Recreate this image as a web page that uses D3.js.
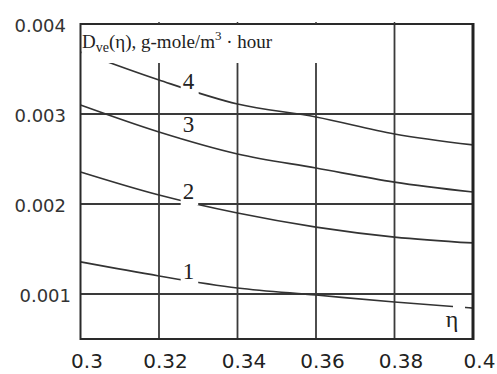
<!DOCTYPE html>
<html>
<head>
<meta charset="utf-8">
<script src="https://cdn.jsdelivr.net/npm/d3@7"></script>
<style>
  body { margin: 0; background: #fff; }
  svg { display: block; }
</style>
</head>
<body>
<svg id="chart" width="497" height="374"></svg>
<script>
// ===== data =====
const eta = [0.30, 0.32, 0.34, 0.36, 0.38, 0.40];
const curve1 = [0.001356, 0.0012, 0.001067, 0.000989, 0.000911, 0.000844];
const curve2 = [0.002356, 0.0021, 0.0019, 0.001744, 0.001633, 0.001567];
const curve3 = [0.0031, 0.0028, 0.002556, 0.0024, 0.002244, 0.002133];
const curve4 = [0.003689, 0.003378, 0.003111, 0.002967, 0.002778, 0.002656];
const curveNames = ["1", "2", "3", "4"];
// where each curve number is written (eta, value)
const labelEta = [0.3275, 0.3275, 0.3275, 0.3275];
const labelVal = [0.001256, 0.002144, 0.002889, 0.003367];

const xTicks = [0.30, 0.32, 0.34, 0.36, 0.38, 0.40];
const xTickLabels = ["0.3", "0.32", "0.34", "0.36", "0.38", "0.4"];
const yTicks = [0.004, 0.003, 0.002, 0.001];
const yTickLabels = ["0.004", "0.003", "0.002", "0.001"];

// ===== layout =====
const svg = d3.select("#chart");
const x = d3.scaleLinear().domain([0.3, 0.4]).range([80.5, 473]);
const y = d3.scaleLinear().domain([0.0005, 0.004]).range([339, 24]);
const gridCol = "#3a3a3a";
const lineCol = "#333";
const serif = "Liberation Serif, Times New Roman, serif";

// gridlines
svg.append("g").selectAll("line")
  .data(xTicks.slice(1, -1))
  .join("line")
  .attr("x1", d => x(d)).attr("x2", d => x(d))
  .attr("y1", y.range()[1]).attr("y2", y.range()[0])
  .attr("stroke", gridCol).attr("stroke-width", 1.8);

svg.append("g").selectAll("line")
  .data(yTicks.slice(1))
  .join("line")
  .attr("x1", x.range()[0]).attr("x2", x.range()[1])
  .attr("y1", d => y(d)).attr("y2", d => y(d))
  .attr("stroke", gridCol).attr("stroke-width", 1.8);

// curves
const series = [curve1, curve2, curve3, curve4];
const line = d3.line()
  .x(d => x(d[0]))
  .y(d => y(d[1]))
  .curve(d3.curveMonotoneX);

svg.append("g").selectAll("path")
  .data(series)
  .join("path")
  .attr("d", s => line(eta.map((e, i) => [e, s[i]])))
  .attr("fill", "none")
  .attr("stroke", lineCol)
  .attr("stroke-width", 1.7);

// title box (hides grid and curve 4 behind it)
const title = svg.append("g");
title.append("rect")
  .attr("x", x.range()[0] + 1).attr("y", y.range()[1] + 1)
  .attr("width", 240).attr("height", 38)
  .attr("fill", "#fff");
const tt = title.append("text")
  .attr("x", 82).attr("y", 48)
  .attr("font-family", serif)
  .attr("font-size", 19)
  .attr("fill", "#222");
tt.append("tspan").text("D");
tt.append("tspan").text("ve").attr("font-size", 14).attr("dy", 4);
tt.append("tspan").text("(η), g-mole/m").attr("dy", -4);
tt.append("tspan").text("3").attr("font-size", 13).attr("dy", -8);
tt.append("tspan").text(" · hour").attr("dy", 8);

// curve numbers with white boxes
const numG = svg.append("g");
curveNames.forEach((name, i) => {
  const cx = x(labelEta[i]);
  const cy = y(labelVal[i]);
  const g = numG.append("g");
  const t = g.append("text")
    .attr("x", cx).attr("y", cy)
    .attr("dy", "0.35em")
    .attr("text-anchor", "middle")
    .attr("font-family", serif)
    .attr("font-size", 23)
    .attr("fill", "#222")
    .text(name);
  const b = t.node().getBBox();
  g.insert("rect", "text")
    .attr("x", b.x - 2).attr("y", b.y + 4)
    .attr("width", b.width + 6).attr("height", b.height - 3)
    .attr("fill", "#fff");
});

// eta label
const etaG = svg.append("g");
etaG.append("rect")
  .attr("x", 453).attr("y", 300)
  .attr("width", 12).attr("height", 36)
  .attr("fill", "#fff");
etaG.append("text")
  .attr("x", 452).attr("y", 327)
  .attr("text-anchor", "middle")
  .attr("font-family", serif)
  .attr("font-size", 24)
  .attr("fill", "#222")
  .text("η");

// border
svg.append("rect")
  .attr("x", x.range()[0]).attr("y", y.range()[1])
  .attr("width", x.range()[1] - x.range()[0])
  .attr("height", y.range()[0] - y.range()[1])
  .attr("fill", "none")
  .attr("stroke", "#2a2a2a").attr("stroke-width", 2);
svg.append("line")
  .attr("x1", x.range()[1]).attr("x2", x.range()[1])
  .attr("y1", y.range()[1] - 1).attr("y2", y.range()[0] + 1)
  .attr("stroke", "#222").attr("stroke-width", 3);

// small ticks on top border
svg.append("g").selectAll("line")
  .data(xTicks.slice(1, -1))
  .join("line")
  .attr("x1", d => x(d)).attr("x2", d => x(d))
  .attr("y1", y.range()[1] - 2).attr("y2", y.range()[1])
  .attr("stroke", gridCol).attr("stroke-width", 1.5);

// ===== axes labels =====
const xAxis = d3.axisBottom(x)
  .tickValues(xTicks)
  .tickSize(0)
  .tickFormat((d, i) => xTickLabels[i]);
const gx = svg.append("g")
  .attr("transform", "translate(6,351)")
  .call(xAxis);
gx.select(".domain").remove();
gx.selectAll("text")
  .attr("font-family", "DejaVu Sans, sans-serif")
  .attr("font-size", 20)
  .attr("fill", "#222");

const yAxis = d3.axisLeft(y)
  .tickValues(yTicks)
  .tickSize(0)
  .tickFormat((d, i) => yTickLabels[i]);
const gy = svg.append("g")
  .attr("transform", "translate(66,0)")
  .call(yAxis);
gy.select(".domain").remove();
gy.selectAll("text")
  .attr("x", d => d === 0.001 ? 5 : 0)
  .attr("dy", "0.4em")
  .attr("font-family", "DejaVu Sans, sans-serif")
  .attr("font-size", 18)
  .attr("fill", "#333");
</script>
</body>
</html>
